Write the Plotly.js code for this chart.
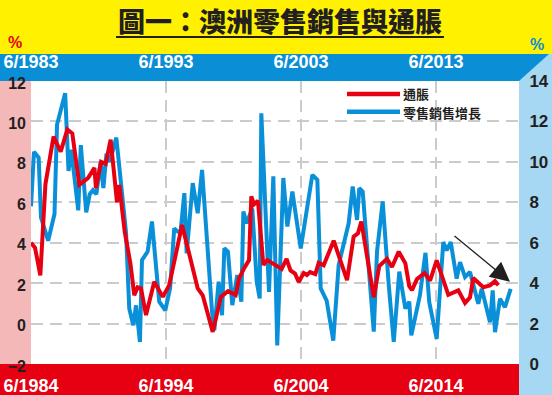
<!DOCTYPE html>
<html><head><meta charset="utf-8">
<script src="https://cdn.plot.ly/plotly-3.0.1.min.js"></script>
<style>html,body{margin:0;padding:0;background:#fff}#chart{width:552px;height:395px}</style>
</head><body><div id="chart"></div>
<script>
// ---------------- DATA ----------------
// 通脹 (inflation, % y/y) – left axis, bottom date axis
const inflationYears = [1984.50, 1984.80, 1985.19, 1985.57, 1986.17, 1986.70, 1987.19, 1987.56, 1988.08, 1988.72,
  1989.20, 1989.31, 1989.69, 1990.03, 1990.40, 1990.87, 1991.04, 1991.44, 1991.87, 1992.15,
  1992.40, 1992.65, 1993.02, 1993.63, 1994.26, 1994.74, 1995.69, 1996.85, 1997.22, 1997.96,
  1998.57, 1999.09, 1999.66, 1999.91, 2000.28, 2000.65, 2000.82, 2001.02, 2001.31, 2001.71,
  2002.00, 2002.65, 2003.07, 2003.43, 2003.72, 2004.06, 2004.33, 2004.70, 2004.94, 2005.17,
  2005.56, 2005.81, 2006.18, 2006.92, 2007.91, 2008.40, 2008.72, 2008.97, 2009.89, 2010.30,
  2010.87, 2011.24, 2011.74, 2012.23, 2012.52, 2012.72, 2013.09, 2013.65, 2014.06, 2014.55,
  2015.41, 2016.15, 2016.65, 2017.02, 2017.26, 2018.00, 2018.50, 2018.87, 2019.12];
const inflationValues = [4.0, 3.75, 2.38, 6.9, 9.25, 8.5, 9.6, 9.4, 6.87, 7.2,
  7.7, 6.7, 8.0, 7.9, 9.1, 6.0, 6.85, 4.55, 2.95, 1.4,
  1.8, 1.74, 0.42, 2.07, 1.32, 1.9, 4.88, 1.74, 1.4, -0.41,
  1.32, 1.6, 1.41, 2.23, 2.73, 3.14, 6.29, 5.9, 6.07, 2.9,
  3.14, 2.85, 2.7, 3.2, 2.63, 2.47, 2.06, 2.5, 2.4, 2.55,
  2.45, 3.0, 2.88, 4.1, 2.15, 4.3, 4.47, 5.05, 1.3, 2.85,
  3.2, 2.8, 3.56, 2.98, 1.85, 1.65, 2.2, 2.5, 2.13, 3.13,
  1.42, 1.64, 1.02, 1.3, 2.25, 1.8, 1.89, 2.1, 1.9];

// 零售銷售增長 (retail sales growth, % y/y) – right axis, top date axis (one year earlier)
const retailYears = [1983.50, 1983.72, 1984.07, 1984.24, 1984.77, 1985.24, 1985.43, 1986.03, 1986.28, 1986.48,
  1987.00, 1987.19, 1987.59, 1987.85, 1988.09, 1988.34, 1988.66, 1988.86, 1989.09, 1989.33,
  1989.82, 1990.07, 1990.54, 1990.78, 1991.08, 1991.28, 1991.57, 1991.72, 1992.14, 1992.46,
  1993.00, 1993.45, 1993.80, 1994.11, 1994.37, 1994.57, 1994.86, 1995.03, 1995.48, 1995.85,
  1996.17, 1996.91, 1997.08, 1997.40, 1997.65, 1997.82, 1998.09, 1998.41, 1998.78, 1999.08,
  1999.23, 1999.48, 1999.89, 2000.22, 2000.44, 2000.56, 2001.13, 2001.45, 2001.74, 2002.19,
  2002.49, 2002.86, 2003.48, 2004.34, 2004.71, 2004.96, 2005.40, 2005.89, 2006.29, 2007.03,
  2007.33, 2007.65, 2007.82, 2008.07, 2008.89, 2009.13, 2009.55, 2010.00, 2010.37, 2010.78,
  2011.23, 2011.52, 2011.67, 2012.31, 2012.72, 2013.00, 2013.55, 2014.04, 2014.29, 2014.59,
  2015.03, 2015.28, 2015.65, 2016.02, 2016.26, 2016.63, 2016.89, 2017.26, 2017.50, 2017.70,
  2017.87, 2018.24, 2018.61, 2019.03];
const retailValues = [7.8, 10.5, 10.2, 7.25, 6.1, 7.42, 11.85, 13.4, 9.55, 10.6,
  7.6, 10.83, 7.5, 8.4, 8.6, 8.4, 10.0, 8.7, 10.4, 10.0,
  11.2, 9.4, 6.5, 2.74, 1.92, 2.9, 1.09, 5.14, 5.56, 7.05,
  3.08, 2.66, 3.74, 6.71, 6.55, 6.5, 8.45, 5.47, 8.95, 7.46,
  9.6, 2.58, 1.67, 4.07, 2.41, 5.72, 5.56, 2.91, 4.4, 3.08,
  7.54, 6.96, 7.7, 4.07, 3.24, 12.4, 3.57, 9.28, 0.92, 9.2,
  6.8, 8.53, 5.72, 9.36, 9.11, 3.74, 3.14, 1.16, 4.9, 6.96,
  8.78, 7.13, 8.7, 8.53, 1.6, 5.56, 8.04, 3.9, 1.1, 4.57,
  2.74, 3.08, 1.42, 3.4, 5.5, 3.06, 1.24, 6.03, 5.62, 6.03,
  4.22, 5.04, 4.3, 4.55, 3.89, 2.98, 3.72, 2.81, 2.06, 3.64,
  1.57, 3.23, 2.81, 3.72];

const bottomTickYears = [1984.5, 1994.5, 2004.5, 2014.5];
const bottomTickLabels = ['6/1984', '6/1994', '6/2004', '6/2014'];
const topTickYears = [1983.5, 1993.5, 2003.5, 2013.5];
const topTickLabels = ['6/1983', '6/1993', '6/2003', '6/2013'];
const leftTicks = [-2, 0, 2, 4, 6, 8, 10, 12];
const rightTicks = [0, 2, 4, 6, 8, 10, 12, 14];
const titleText = '圖一：澳洲零售銷售與通脹';
const seriesNames = ['通脹', '零售銷售增長'];

// ---------------- STYLE / GEOMETRY ----------------
const W = 552, H = 395;
const M = {l: 31, r: 33, t: 81, b: 31};
const PW = W - M.l - M.r, PH = H - M.t - M.b;
const PX_PER_YEAR = 13.5;
const px = v => (v - M.l) / PW;          // pixel x -> paper x
const py = v => (H - M.b - v) / PH;      // pixel y -> paper y

const YELLOW = '#FFF100', BAND_BLUE = '#0A8ED6', LIGHT_BLUE = '#A6D8F4',
      PINK = '#F5B8B8', BAND_RED = '#E60012', LINE_RED = '#E60012', LINE_BLUE = '#0A90D8',
      DARK = '#231F20', GRID = '#CBCBCB';

const numFont = {family: '"Liberation Sans", Arial, sans-serif', size: 16, color: DARK, weight: 'bold'};
const rightFont = {family: '"Liberation Sans", Arial, sans-serif', size: 17, color: DARK, weight: 'bold'};
const dateFont = {family: '"Liberation Sans", Arial, sans-serif', size: 18, color: '#FFFFFF', weight: 'bold'};
const cjk = '"Noto Sans CJK TC", "Noto Sans CJK SC", sans-serif';

const traces = [
  {x: retailYears, y: retailValues, xaxis: 'x', yaxis: 'y', type: 'scatter', mode: 'lines',
   name: seriesNames[1], line: {color: LINE_BLUE, width: 4}, showlegend: false, hoverinfo: 'skip'},
  {x: inflationYears, y: inflationValues, xaxis: 'x2', yaxis: 'y2', type: 'scatter', mode: 'lines',
   name: seriesNames[0], line: {color: LINE_RED, width: 4}, showlegend: false, hoverinfo: 'skip'}
];

const gridMinor = vals => ({tickmode: 'array', tickvals: vals, ticks: 'inside', ticklen: 0,
  showgrid: true, gridcolor: GRID, gridwidth: 2, griddash: '12px,7px'});

const rect = (x0, y0, x1, y1, color) => ({type: 'rect', xref: 'paper', yref: 'paper', layer: 'below',
  x0: px(x0), x1: px(x1), y0: py(y1), y1: py(y0), fillcolor: color, line: {width: 0}});
const hline = (x0, x1, y, color, w) => ({type: 'line', xref: 'paper', yref: 'paper',
  x0: px(x0), x1: px(x1), y0: py(y), y1: py(y), line: {color: color, width: w}});

const bandPath = [[0, 54], [549, 54], [519, 81], [0, 81]]
  .map((p, i) => (i ? 'L' : 'M') + px(p[0]) + ',' + py(p[1])).join(' ') + ' Z';

const pctFont = c => ({family: '"Liberation Sans", Arial, sans-serif', size: 16, color: c, weight: 'bold'});
const legendFont = {family: cjk, size: 13, color: DARK, weight: 'bold'};

const layout = {
  width: W, height: H, margin: M,
  paper_bgcolor: YELLOW, plot_bgcolor: '#FFFFFF',
  showlegend: false,
  title: {text: titleText, xref: 'container', yref: 'container', x: 280 / W, y: 1 - 22.5 / H,
          xanchor: 'center', yanchor: 'middle',
          font: {family: cjk, size: 27, color: DARK, weight: 900}},
  xaxis: {side: 'top', range: [1983.5, 1983.5 + PW / PX_PER_YEAR], tickmode: 'array',
          tickvals: topTickYears, ticktext: topTickLabels, tickfont: dateFont,
          showgrid: false, zeroline: false, showline: false, ticks: 'outside', ticklen: 0,
          ticklabelstandoff: 5, minor: gridMinor(topTickYears.slice(1)), fixedrange: true},
  yaxis: {side: 'right', range: [0, 14], tickmode: 'array', tickvals: rightTicks, tickfont: rightFont,
          showgrid: false, zeroline: false, showline: false, ticks: 'outside', ticklen: 0,
          ticklabelstandoff: 6, minor: gridMinor(rightTicks.slice(1, -1)), fixedrange: true},
  xaxis2: {overlaying: 'x', side: 'bottom', anchor: 'y2', range: [1984.5, 1984.5 + PW / PX_PER_YEAR],
           tickmode: 'array', tickvals: bottomTickYears, ticktext: bottomTickLabels, tickfont: dateFont,
           showgrid: false, zeroline: false, showline: false, ticks: '', ticklabelstandoff: 9, fixedrange: true},
  yaxis2: {overlaying: 'y', side: 'left', anchor: 'x2', range: [-2, 12], tickmode: 'array',
           tickvals: leftTicks, tickfont: numFont, showgrid: false, zeroline: false, showline: false,
           ticks: '', ticklabelstandoff: 4, ticklabelshift: 2, fixedrange: true},
  shapes: [
    rect(519, 54, 552, 395, LIGHT_BLUE),
    {type: 'path', xref: 'paper', yref: 'paper', layer: 'below', path: bandPath,
     fillcolor: BAND_BLUE, line: {width: 0}},
    rect(0, 81, 31, 364, PINK),
    rect(0, 364, 519, 395, BAND_RED),
    hline(116, 444, 37, DARK, 2),
    hline(347, 400, 94, LINE_RED, 4.5),
    hline(347, 400, 111.7, LINE_BLUE, 4.5)
  ],
  annotations: [
    {xref: 'paper', yref: 'paper', x: px(15), y: py(43), xanchor: 'center', yanchor: 'middle',
     text: '%', showarrow: false, borderpad: 0, font: pctFont(BAND_RED)},
    {xref: 'paper', yref: 'paper', x: px(537), y: py(45), xanchor: 'center', yanchor: 'middle',
     text: '%', showarrow: false, borderpad: 0, font: pctFont(BAND_BLUE)},
    {xref: 'paper', yref: 'paper', x: px(402), y: py(93.6), xanchor: 'left', yanchor: 'middle',
     text: seriesNames[0], showarrow: false, borderpad: 0, font: legendFont},
    {xref: 'paper', yref: 'paper', x: px(402), y: py(112.6), xanchor: 'left', yanchor: 'middle',
     text: seriesNames[1], showarrow: false, borderpad: 0, font: legendFont},
    {xref: 'paper', yref: 'paper', x: px(510), y: py(281.7), text: '', showarrow: true,
     ax: -57, ay: -47, arrowhead: 2, arrowsize: 3, arrowwidth: 1.3, arrowcolor: DARK, standoff: 0}
  ]
};

Plotly.newPlot('chart', traces, layout, {staticPlot: true, displayModeBar: false});
</script>
</body></html>
